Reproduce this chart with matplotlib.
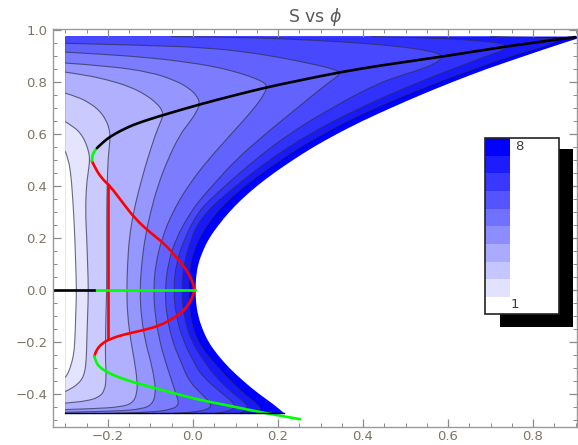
import matplotlib.pyplot as plt
from matplotlib.patches import Rectangle, PathPatch
from matplotlib.path import Path
from matplotlib.ticker import MultipleLocator

# edges of the shaded region
x_left = -0.30
y_top = 0.975
y_bot = -0.475

# contour lines, innermost (lightest) first, read top -> bottom as (phi, S)
c1 = [(-0.300, 0.532), (-0.293, 0.50), (-0.288, 0.45), (-0.285, 0.40), (-0.281, 0.30), (-0.278, 0.20),
      (-0.276, 0.10), (-0.274, 0.00), (-0.276, -0.10), (-0.278, -0.20), (-0.281, -0.25), (-0.287, -0.29),
      (-0.294, -0.32), (-0.300, -0.335)]
c2 = [(-0.300, 0.647), (-0.280, 0.627), (-0.263, 0.600), (-0.252, 0.565), (-0.245, 0.530), (-0.243, 0.500),
      (-0.246, 0.460), (-0.251, 0.400), (-0.253, 0.300), (-0.250, 0.200), (-0.248, 0.100), (-0.246, 0.000),
      (-0.248, -0.100), (-0.250, -0.200), (-0.251, -0.270), (-0.255, -0.320), (-0.263, -0.348),
      (-0.276, -0.368), (-0.290, -0.382), (-0.300, -0.390)]
c3 = [(-0.300, 0.757), (-0.270, 0.742), (-0.242, 0.718), (-0.220, 0.690), (-0.205, 0.655), (-0.197, 0.620),
      (-0.195, 0.590), (-0.197, 0.550), (-0.200, 0.500), (-0.202, 0.400), (-0.203, 0.300), (-0.203, 0.150),
      (-0.203, 0.000), (-0.205, -0.100), (-0.206, -0.200), (-0.206, -0.270), (-0.204, -0.340),
      (-0.208, -0.388), (-0.222, -0.413), (-0.250, -0.427), (-0.300, -0.435)]
c4 = [(-0.300, 0.838), (-0.250, 0.826), (-0.200, 0.808), (-0.150, 0.783), (-0.112, 0.752), (-0.085, 0.718),
      (-0.072, 0.690), (-0.071, 0.668), (-0.078, 0.640), (-0.088, 0.600), (-0.108, 0.500), (-0.125, 0.400),
      (-0.140, 0.300), (-0.150, 0.200), (-0.154, 0.100), (-0.156, 0.000), (-0.154, -0.100), (-0.146, -0.200),
      (-0.138, -0.270), (-0.131, -0.350), (-0.132, -0.400), (-0.142, -0.435), (-0.170, -0.450),
      (-0.230, -0.456), (-0.300, -0.460)]
c5 = [(-0.300, 0.873), (-0.200, 0.862), (-0.100, 0.838), (-0.045, 0.808), (-0.010, 0.778), (0.010, 0.745),
      (0.016, 0.718), (0.010, 0.690), (-0.008, 0.645), (-0.030, 0.600), (-0.060, 0.500), (-0.083, 0.400),
      (-0.100, 0.300), (-0.113, 0.200), (-0.121, 0.100), (-0.125, 0.000), (-0.122, -0.100), (-0.112, -0.200),
      (-0.100, -0.270), (-0.090, -0.350), (-0.088, -0.400), (-0.096, -0.440), (-0.120, -0.458),
      (-0.180, -0.466), (-0.300, -0.470)]
c6 = [(-0.300, 0.915), (-0.200, 0.906), (-0.100, 0.893), (-0.030, 0.880), (0.050, 0.860), (0.110, 0.835),
      (0.150, 0.812), (0.170, 0.795), (0.174, 0.780), (0.168, 0.755), (0.145, 0.700), (0.090, 0.600),
      (0.035, 0.500), (-0.012, 0.400), (-0.048, 0.300), (-0.073, 0.200), (-0.088, 0.100), (-0.093, 0.000),
      (-0.089, -0.100), (-0.078, -0.200), (-0.066, -0.270), (-0.050, -0.350), (-0.040, -0.400),
      (-0.032, -0.440), (-0.050, -0.460), (-0.100, -0.470), (-0.200, -0.475)]
c7 = [(-0.300, 0.949), (-0.100, 0.941), (0.030, 0.932), (0.130, 0.915), (0.220, 0.890), (0.290, 0.866),
      (0.330, 0.850), (0.346, 0.838), (0.340, 0.820), (0.320, 0.800), (0.245, 0.700), (0.170, 0.600),
      (0.100, 0.500), (0.045, 0.400), (0.018, 0.350), (-0.005, 0.300), (-0.040, 0.200), (-0.059, 0.100),
      (-0.066, 0.000), (-0.062, -0.100), (-0.048, -0.200), (-0.030, -0.270), (-0.010, -0.350),
      (0.020, -0.400), (0.045, -0.440), (0.035, -0.460), (0.000, -0.470), (-0.050, -0.475)]
c8 = [(-0.050, 0.975), (0.100, 0.972), (0.205, 0.967), (0.350, 0.955), (0.470, 0.940), (0.550, 0.922),
      (0.585, 0.905), (0.588, 0.895), (0.570, 0.870), (0.520, 0.840), (0.440, 0.800), (0.325, 0.700),
      (0.225, 0.600), (0.145, 0.500), (0.075, 0.400), (0.042, 0.350), (0.012, 0.300), (-0.020, 0.200),
      (-0.040, 0.100), (-0.046, 0.000), (-0.040, -0.100), (-0.022, -0.200), (0.000, -0.270),
      (0.020, -0.330), (0.070, -0.400), (0.100, -0.440), (0.095, -0.460), (0.070, -0.470), (0.050, -0.475)]
c9 = [(0.420, 0.975), (0.550, 0.970), (0.650, 0.962), (0.710, 0.952), (0.738, 0.942), (0.735, 0.925),
      (0.690, 0.900), (0.610, 0.850), (0.530, 0.800), (0.390, 0.700), (0.272, 0.600), (0.178, 0.500),
      (0.100, 0.400), (0.064, 0.350), (0.032, 0.300), (0.010, 0.250), (-0.004, 0.200), (-0.022, 0.100),
      (-0.027, 0.000), (-0.022, -0.100), (-0.004, -0.200), (0.025, -0.270), (0.050, -0.330),
      (0.095, -0.400), (0.128, -0.440), (0.125, -0.462), (0.110, -0.475)]
c10 = [(0.700, 0.975), (0.800, 0.971), (0.848, 0.967), (0.860, 0.962), (0.840, 0.945), (0.800, 0.925),
       (0.745, 0.900), (0.660, 0.850), (0.575, 0.800), (0.425, 0.700), (0.302, 0.600), (0.203, 0.500),
       (0.121, 0.400), (0.086, 0.350), (0.056, 0.300), (0.033, 0.250), (0.014, 0.200), (0.002, 0.150),
       (-0.007, 0.100), (-0.011, 0.000), (-0.007, -0.100), (0.001, -0.150), (0.012, -0.200),
       (0.033, -0.250), (0.060, -0.300), (0.088, -0.350), (0.120, -0.400), (0.152, -0.440),
       (0.160, -0.462), (0.155, -0.475)]

# right edge of the shaded region (white beyond it)
bnd = [(0.920, 0.975), (0.870, 0.950), (0.780, 0.900), (0.690, 0.850), (0.610, 0.800), (0.535, 0.750),
       (0.465, 0.700), (0.398, 0.650), (0.338, 0.600), (0.283, 0.550), (0.235, 0.500), (0.190, 0.450),
       (0.150, 0.400), (0.115, 0.350), (0.085, 0.300), (0.060, 0.250), (0.038, 0.200), (0.023, 0.150),
       (0.012, 0.100), (0.007, 0.050), (0.006, 0.000), (0.007, -0.050), (0.012, -0.100), (0.022, -0.150),
       (0.036, -0.200), (0.058, -0.250), (0.085, -0.300), (0.118, -0.350), (0.155, -0.400),
       (0.190, -0.440), (0.215, -0.475)]

# overlaid curves
black_top = [(-0.226, 0.546), (-0.212, 0.568), (-0.195, 0.590), (-0.170, 0.613), (-0.140, 0.636),
             (-0.100, 0.658), (-0.060, 0.678), (0.020, 0.716), (0.100, 0.750), (0.174, 0.780),
             (0.250, 0.806), (0.346, 0.838), (0.450, 0.866), (0.588, 0.898), (0.740, 0.938), (0.900, 0.973)]
green_top = [(-0.238, 0.497), (-0.237, 0.515), (-0.233, 0.532), (-0.226, 0.546)]
red_s = [(-0.238, 0.497), (-0.230, 0.468), (-0.214, 0.428), (-0.195, 0.400), (-0.165, 0.335),
         (-0.135, 0.272), (-0.100, 0.220), (-0.065, 0.175), (-0.035, 0.118), (-0.014, 0.075),
         (-0.002, 0.035), (0.004, 0.000), (-0.002, -0.030), (-0.012, -0.060), (-0.028, -0.088),
         (-0.050, -0.112), (-0.078, -0.137), (-0.120, -0.156), (-0.160, -0.170), (-0.192, -0.186),
         (-0.214, -0.205), (-0.227, -0.230), (-0.232, -0.255)]
red_vert = [(-0.200, 0.405), (-0.200, -0.187)]
green_bot = [(-0.232, -0.255), (-0.229, -0.275), (-0.220, -0.297), (-0.200, -0.318), (-0.175, -0.336),
             (-0.140, -0.355), (-0.100, -0.373), (-0.060, -0.390), (-0.020, -0.408), (0.020, -0.424),
             (0.060, -0.437), (0.100, -0.450), (0.146, -0.466), (0.200, -0.482), (0.252, -0.497)]
black_zero = [(-0.330, 0.0), (-0.232, 0.0)]
green_zero = [(-0.232, 0.0), (0.004, 0.0)]

contours = [c1, c2, c3, c4, c5, c6, c7, c8, c9, c10]
shades = [255, 228, 202, 176, 150, 124, 98, 72, 48, 24, 0]
leg_shades = [226, 198, 170, 141, 113, 85, 56, 28, 0]
leg_labels = ['1', '8']


def blue(v):
    return (v / 255, v / 255, 1.0)


def xy(pts):
    return [p[0] for p in pts], [p[1] for p in pts]


def smooth(pts):
    # quadratic curve pieces with the read points as control points
    verts = [pts[0]]
    codes = [Path.MOVETO]
    for i in range(1, len(pts) - 1):
        mid = ((pts[i][0] + pts[i + 1][0]) / 2, (pts[i][1] + pts[i + 1][1]) / 2)
        verts += [pts[i], mid]
        codes += [Path.CURVE3, Path.CURVE3]
    verts.append(pts[-1])
    codes.append(Path.LINETO)
    return verts, codes


def region(pts, extra):
    verts, codes = smooth(pts)
    verts = verts + extra + [(0, 0)]
    codes = codes + [Path.LINETO] * len(extra) + [Path.CLOSEPOLY]
    return Path(verts, codes)


def curve(ax, pts, **kw):
    v, c = smooth(pts)
    ax.add_patch(PathPatch(Path(v, c), fill=False, capstyle='round', **kw))


fig = plt.figure(figsize=(5.78, 4.45), dpi=100)
ax = fig.add_axes([53 / 578, 1 - 427 / 445, 524 / 578, 398 / 445])
ax.set_zorder(0)

# whole region in darkest shade, then each contour's inside on top
ax.add_patch(PathPatch(region(bnd, [(x_left, y_bot), (x_left, y_top)]),
                       facecolor=blue(shades[10]), edgecolor='none'))
for k in range(9, -1, -1):
    c = contours[k]
    ax.add_patch(PathPatch(region(c, [(x_left, c[-1][1]), (x_left, c[0][1])]),
                           facecolor=blue(shades[k]), edgecolor='none'))
for c in contours:
    curve(ax, c, edgecolor='#30304a', lw=0.8, alpha=0.7)
ax.plot([x_left, bnd[-1][0]], [y_bot, y_bot], color='k', lw=1.0)

lw = 1.9
ax.plot(*xy(red_vert), color='#ff0000', lw=lw)
curve(ax, red_s, edgecolor='#ff0000', lw=lw)
curve(ax, green_top, edgecolor='#00ff00', lw=lw)
curve(ax, green_bot, edgecolor='#00ff00', lw=lw)
ax.plot(*xy(green_zero), color='#00ff00', lw=lw)
ax.plot(*xy(black_zero), color='k', lw=lw)
curve(ax, black_top, edgecolor='k', lw=lw)

ax.set_xlim(-0.3294, 0.9035)
ax.set_ylim(-0.527, 1.004)
ax.xaxis.set_major_locator(MultipleLocator(0.2))
ax.xaxis.set_minor_locator(MultipleLocator(0.05))
ax.yaxis.set_major_locator(MultipleLocator(0.2))
ax.yaxis.set_minor_locator(MultipleLocator(0.05))
ax.tick_params(which='both', direction='in', top=True, right=True, color='#8a8a8a',
               labelcolor='#7d7468', labelsize=9.5)
ax.tick_params(which='major', length=6, width=0.9)
ax.tick_params(which='minor', length=3, width=0.7)
ax.tick_params(axis='y', which='major', pad=4)
ax.tick_params(axis='x', which='major', pad=2)
for s in ax.spines.values():
    s.set_color('#9a9a9a')
    s.set_linewidth(1.0)
ax.set_title(r'S vs $\phi$', color='#5a5a5a', fontsize=12.5, pad=5)

# legend box with drop shadow
shadow = Rectangle((500 / 578, 1 - 327 / 445), 73 / 578, 178 / 445, transform=fig.transFigure,
                   facecolor='k', edgecolor='none', zorder=1)
fig.add_artist(shadow)
lax = fig.add_axes([485 / 578, 1 - 314 / 445, 74 / 578, 176 / 445])
lax.set_zorder(2)
lax.set_xlim(0, 74)
lax.set_ylim(0, 176)
lax.axis('off')
lax.add_patch(Rectangle((0, 0), 74, 176, facecolor='white', edgecolor='none'))
band_h = 159 / len(leg_shades)
for i, v in enumerate(leg_shades):
    lax.add_patch(Rectangle((0, 17 + i * band_h), 25, band_h, facecolor=blue(v), edgecolor='none'))
lax.add_patch(Rectangle((0, 0), 74, 176, facecolor='none', edgecolor='#222222', lw=1.2, clip_on=False))
lax.text(34, 167, leg_labels[1], fontsize=9.5, color='#3a3a3a', ha='center', va='center')
lax.text(30, 9, leg_labels[0], fontsize=9.5, color='#3a3a3a', ha='center', va='center')

fig.savefig('out.png', dpi=100)
